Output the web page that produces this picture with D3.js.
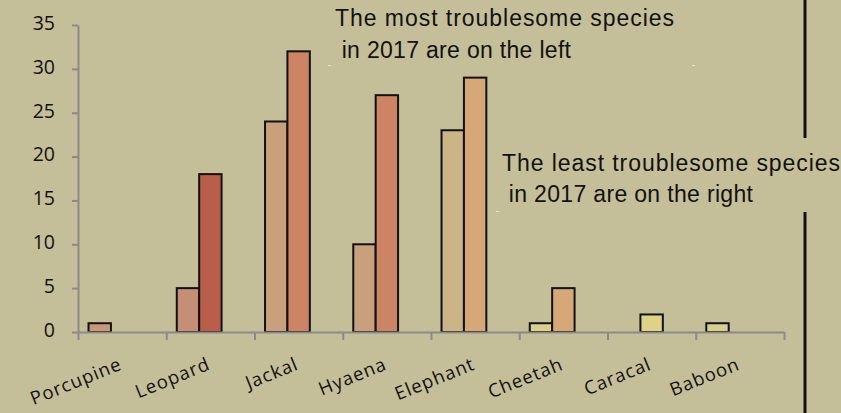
<!DOCTYPE html>
<html>
<head>
<meta charset="utf-8">
<script src="https://cdn.jsdelivr.net/npm/d3@7"></script>
<style>
  html, body { margin: 0; padding: 0; background: #c5bf99; }
  svg { display: block; }
</style>
</head>
<body>
<svg id="chart" width="841" height="413"></svg>
<script>
// Species causing conflict, counts per survey series
const species = ["Porcupine", "Leopard", "Jackal", "Hyaena", "Elephant", "Cheetah", "Caracal", "Baboon"];
const seriesNames = ["Series 1", "Series 2", "Series 3"];
const series1 = [1, 5, 24, 10, 23, 1, null, 1];
const series2 = [null, 18, 32, 27, 29, 5, 2, null];
const series3 = [null, null, null, null, null, null, null, null];
const series1Colors = ["#c99878", "#c48f74", "#c9a07c", "#c9a07c", "#cbb486", "#dccf8b", "#ded288", "#d9cf8c"];
const series2Colors = ["#cd8464", "#b85e4b", "#cd8464", "#cd8464", "#d6a877", "#d6a877", "#ded288", "#d9cf8c"];
const series3Colors = series2Colors;
const yTicks = [0, 5, 10, 15, 20, 25, 30, 35];
const notes = [
  ["The most troublesome species", " in 2017 are on the left"],
  ["The least troublesome species", " in 2017 are on the right"]
];

const svg = d3.select("#chart");
const plotLeft = 78, plotRight = 784, plotTop = 25, plotBottom = 332;

const x = d3.scaleBand().domain(species).range([plotLeft, plotRight]).paddingInner(0).paddingOuter(0);
const xSub = d3.scaleBand().domain(seriesNames).range([0, x.bandwidth()]).paddingInner(0).paddingOuter(0.47);
const y = d3.scaleLinear().domain([0, 35]).range([plotBottom, plotTop]);

const allSeries = [
  { name: seriesNames[0], values: series1, colors: series1Colors },
  { name: seriesNames[1], values: series2, colors: series2Colors },
  { name: seriesNames[2], values: series3, colors: series3Colors }
];

// bars
const bars = [];
allSeries.forEach(s => s.values.forEach((v, i) => {
  if (v != null) bars.push({ sp: species[i], series: s.name, v, color: s.colors[i] });
}));
svg.append("g").selectAll("rect").data(bars).join("rect")
  .attr("x", d => x(d.sp) + xSub(d.series))
  .attr("width", xSub.bandwidth())
  .attr("y", d => y(d.v))
  .attr("height", d => y(0) - y(d.v))
  .attr("fill", d => d.color)
  .attr("stroke", "#111")
  .attr("stroke-width", 2);

// y axis
const yAxis = svg.append("g").attr("transform", `translate(${plotLeft},0)`)
  .call(d3.axisLeft(y).tickValues(yTicks).tickSize(6).tickSizeOuter(0).tickPadding(17));
yAxis.select(".domain").attr("stroke", "#8a8a8a").attr("stroke-width", 2);
yAxis.selectAll(".tick line").attr("stroke", "#8a8a8a").attr("stroke-width", 2);
yAxis.selectAll(".tick text").attr("fill", "#111").attr("dy", "0.22em")
  .style("font-family", "'Open Sans', sans-serif").style("font-size", "19.5px");

// x axis with ticks at category boundaries
const xEdges = d3.scaleLinear().domain([0, species.length]).range([plotLeft, plotRight]);
const xAxis = svg.append("g").attr("transform", `translate(0,${plotBottom})`)
  .call(d3.axisBottom(xEdges).tickValues(d3.range(species.length + 1)).tickSize(8).tickSizeOuter(0).tickFormat(""));
xAxis.select(".domain").attr("stroke", "#8a8a8a").attr("stroke-width", 2);
xAxis.selectAll(".tick line").attr("stroke", "#8a8a8a").attr("stroke-width", 2);

// rotated category labels
svg.append("g").selectAll("text").data(species).join("text")
  .attr("transform", d => `translate(${x(d) + x.bandwidth() / 2 + 1},369) rotate(-22)`)
  .attr("text-anchor", "end")
  .attr("fill", "#111")
  .style("font-family", "'Open Sans', sans-serif")
  .style("font-size", "18.5px")
  .style("letter-spacing", "1px")
  .text(d => d);

// annotation text boxes
const noteFont = "'Liberation Sans', Arial, sans-serif";
const notePos = [
  { x: 335, ys: [26, 58], widths: [339, 236] },
  { x: 502, ys: [170.5, 201.7], widths: [338, 251] }
];
notes.forEach((lines, k) => {
  lines.forEach((t, j) => {
    svg.append("text")
      .attr("x", notePos[k].x)
      .attr("y", notePos[k].ys[j])
      .attr("fill", "#111")
      .attr("textLength", notePos[k].widths[j])
      .attr("lengthAdjust", "spacing")
      .style("font-family", noteFont)
      .style("font-size", "23px")
      .style("white-space", "pre")
      .text(t);
  });
});

// small text-box corner marks
[[328, 65], [692, 65], [496, 211]].forEach(([mx, my]) => {
  svg.append("rect").attr("x", mx).attr("y", my).attr("width", 3).attr("height", 1).attr("fill", "#e4e0cc");
});

// vertical divider line, interrupted behind the lower note
svg.append("line").attr("x1", 805).attr("x2", 805).attr("y1", 0).attr("y2", 138)
  .attr("stroke", "#111").attr("stroke-width", 3);
svg.append("line").attr("x1", 805).attr("x2", 805).attr("y1", 212).attr("y2", 413)
  .attr("stroke", "#111").attr("stroke-width", 3);
</script>
</body>
</html>
